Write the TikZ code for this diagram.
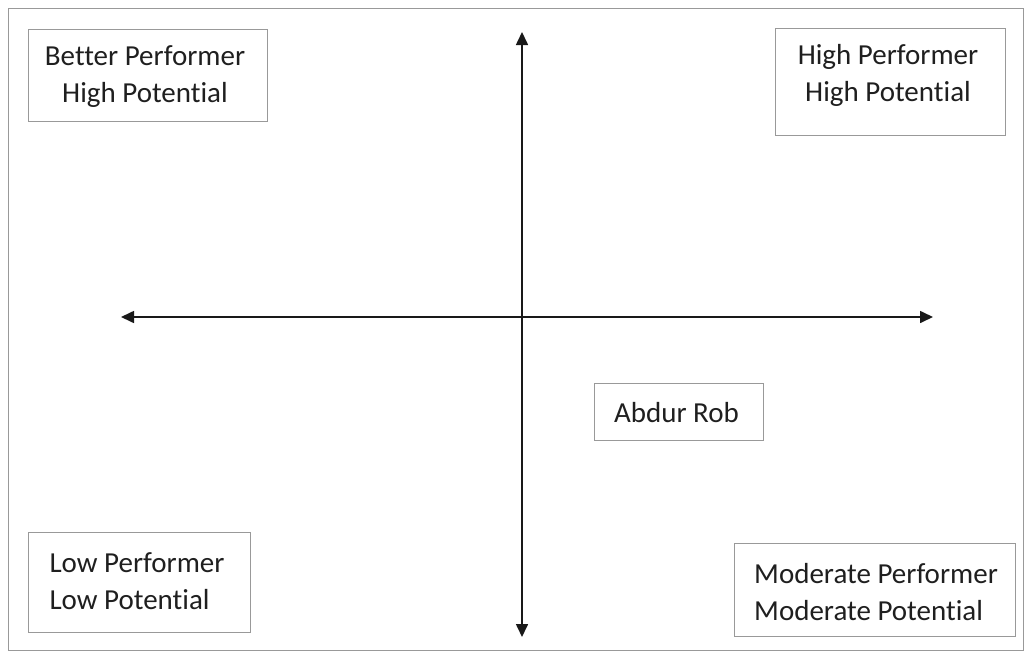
\documentclass[tikz,border=0pt]{standalone}
\usepackage{fontspec}
\setmainfont{Carlito}[Ligatures={NoCommon}]
\usetikzlibrary{arrows.meta}
\begin{document}
\begin{tikzpicture}[x=1pt,y=-1pt,
  frame/.style={draw=black!40,line width=1pt},
  qbox/.style={draw=black!40,line width=1pt,inner sep=0pt},
  qtext/.style={inner sep=0pt,font=\fontsize{29}{37}\selectfont,text=black!88},
  axis/.style={draw=black!90,line width=1.6pt,{Triangle[length=13pt,width=12pt]}-{Triangle[length=13pt,width=12pt]}}]
\useasboundingbox (0,0) rectangle (1027,653);
\draw[frame] (8,8) rectangle (1023,650);
\node[qbox,minimum width=239pt,minimum height=92pt] (bp) at (147.5,75) {};
\node[qtext,align=center] (bpt) at (145,77) {Better Performer\\High Potential};
\node[qbox,minimum width=230pt,minimum height=107pt] (hp) at (890,81.5) {};
\node[qtext,align=center] (hpt) at (888,75.5) {High Performer\\High Potential};
\node[qbox,minimum width=222pt,minimum height=100pt] (lp) at (139,582) {};
\node[qtext,align=left] (lpt) at (137,581) {Low Performer\\Low Potential};
\node[qbox,minimum width=281pt,minimum height=93pt] (mp) at (874.5,589.5) {};
\node[qtext,align=left] (mpt) at (876,592) {Moderate Performer\\Moderate Potential};
\node[qbox,minimum width=169pt,minimum height=57pt] (ar) at (678.5,411.5) {};
\node[qtext] (art) at (676.5,412.5) {Abdur Rob};
\coordinate (top) at (522,32);
\coordinate (bot) at (522,637);
\coordinate (lft) at (121,317);
\coordinate (rgt) at (933,317);
\draw[axis] (lft) -- (rgt);
\draw[axis] (top) -- (bot);
\end{tikzpicture}
\end{document}
